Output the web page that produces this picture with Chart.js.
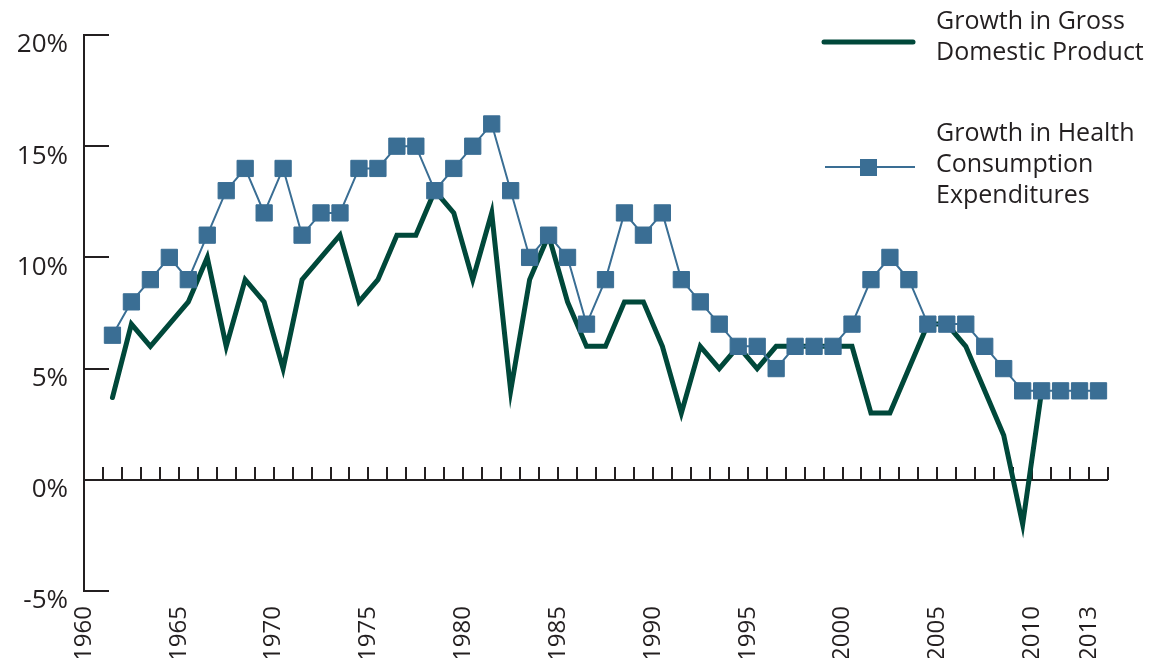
<!DOCTYPE html>
<html>
<head>
<meta charset="utf-8">
<script src="https://cdn.jsdelivr.net/npm/chart.js@4.4.1/dist/chart.umd.min.js"></script>
<style>
  html, body { margin: 0; padding: 0; background: #fff; }
  canvas { display: block; }
</style>
</head>
<body>
<canvas id="growthChart" width="1151" height="658"></canvas>
<script>
// years on the axis (1960 is an empty slot, data start in 1961)
const years = [
  1960, 1961, 1962, 1963, 1964, 1965, 1966, 1967, 1968, 1969,
  1970, 1971, 1972, 1973, 1974, 1975, 1976, 1977, 1978, 1979,
  1980, 1981, 1982, 1983, 1984, 1985, 1986, 1987, 1988, 1989,
  1990, 1991, 1992, 1993, 1994, 1995, 1996, 1997, 1998, 1999,
  2000, 2001, 2002, 2003, 2004, 2005, 2006, 2007, 2008, 2009,
  2010, 2011, 2012, 2013
];
const tickYears = [1960, 1965, 1970, 1975, 1980, 1985, 1990, 1995, 2000, 2005, 2010, 2013];
const yTicks = [-5, 0, 5, 10, 15, 20];

// annual growth, percent
const gdpGrowth = [
  null,
  3.7, 7, 6, 7, 8, 10, 6, 9, 8, 5,
  9, 10, 11, 8, 9, 11, 11, 13, 12, 9,
  12, 4, 9, 11, 8, 6, 6, 8, 8, 6,
  3, 6, 5, 6, 5, 6, 6, 6, 6, 6,
  3, 3, 5, 7, 7, 6, 4, 2, -2, 4,
  null, null, null
];
const healthGrowth = [
  null,
  6.5, 8, 9, 10, 9, 11, 13, 14, 12, 14,
  11, 12, 12, 14, 14, 15, 15, 13, 14, 15,
  16, 13, 10, 11, 10, 7, 9, 12, 11, 12,
  9, 8, 7, 6, 6, 5, 6, 6, 6, 7,
  9, 10, 9, 7, 7, 7, 6, 5, 4, 4,
  4, 4, 4
];

const gdpLabel = ["Growth in Gross", "Domestic Product"];
const healthLabel = ["Growth in Health", "Consumption", "Expenditures"];

const gdpColor = "#00483a";
const healthColor = "#3a6e94";
const axisColor = "#231f20";
const fontFamily = "'Open Sans', 'DejaVu Sans', sans-serif";

// inward y ticks plus the zero line with a small tick at every year
const axisMarks = {
  id: "axisMarks",
  beforeDatasetsDraw(chart) {
    const { ctx, chartArea, scales } = chart;
    const x = scales.x;
    const y = scales.y;
    ctx.save();
    ctx.strokeStyle = axisColor;
    ctx.lineWidth = 2;
    ctx.beginPath();
    yTicks.forEach((v) => {
      const py = Math.round(y.getPixelForValue(v));
      ctx.moveTo(chartArea.left, py);
      ctx.lineTo(chartArea.left + 25, py);
    });
    const zero = Math.round(y.getPixelForValue(0));
    ctx.moveTo(chartArea.left, zero);
    ctx.lineTo(chartArea.right, zero);
    const step = x.getPixelForValue(1) - x.getPixelForValue(0);
    for (let i = 0; i <= years.length; i++) {
      const px = Math.round(x.getPixelForValue(i) - step / 2);
      ctx.moveTo(px, zero);
      ctx.lineTo(px, zero - 13);
    }
    ctx.stroke();
    ctx.restore();
  },
};

const sideLegend = {
  id: "sideLegend",
  afterDraw(chart) {
    const ctx = chart.ctx;
    ctx.save();
    ctx.font = "25px " + fontFamily;
    ctx.fillStyle = axisColor;
    ctx.textBaseline = "middle";
    ctx.textAlign = "left";

    // GDP entry
    ctx.strokeStyle = gdpColor;
    ctx.lineWidth = 5;
    ctx.lineCap = "round";
    ctx.beginPath();
    ctx.moveTo(824, 42);
    ctx.lineTo(913, 42);
    ctx.stroke();
    gdpLabel.forEach((t, i) => ctx.fillText(t, 936, 22 + i * 31));

    // health entry
    ctx.strokeStyle = healthColor;
    ctx.lineWidth = 2;
    ctx.lineCap = "butt";
    ctx.beginPath();
    ctx.moveTo(825, 167);
    ctx.lineTo(915, 167);
    ctx.stroke();
    ctx.fillStyle = healthColor;
    ctx.fillRect(860, 159, 17, 17);
    ctx.fillStyle = axisColor;
    healthLabel.forEach((t, i) => ctx.fillText(t, 936, 134 + i * 31));
    ctx.restore();
  },
};

const ctx = document.getElementById("growthChart").getContext("2d");

const chart = new Chart(ctx, {
  type: "line",
  data: {
    labels: years,
    datasets: [
      {
        label: healthLabel.join(" "),
        data: healthGrowth,
        order: 0,
        borderColor: healthColor,
        borderWidth: 2,
        pointStyle: "rect",
        pointRadius: 11.5,
        pointBackgroundColor: healthColor,
        pointBorderColor: healthColor,
        pointBorderWidth: 1,
        tension: 0,
        spanGaps: false,
      },
      {
        label: gdpLabel.join(" "),
        data: gdpGrowth,
        order: 1,
        borderColor: gdpColor,
        borderWidth: 5,
        borderCapStyle: "round",
        borderJoinStyle: "miter",
        pointRadius: 0,
        tension: 0,
      },
    ],
  },
  options: {
    responsive: false,
    animation: false,
    layout: { padding: { top: 35, right: 43, left: 0, bottom: 0 } },
    plugins: {
      legend: { display: false },
      tooltip: { enabled: false },
    },
    scales: {
      x: {
        type: "category",
        offset: true,
        grid: { display: false, drawTicks: false },
        border: { display: false },
        ticks: {
          autoSkip: false,
          minRotation: 90,
          maxRotation: 90,
          padding: 15,
          labelOffset: -9.5,
          color: axisColor,
          font: { family: fontFamily, size: 24 },
          callback: (value, i) => (tickYears.includes(years[i]) ? String(years[i]) : ""),
        },
        afterFit: (scale) => {
          scale.height = 67;
        },
      },
      y: {
        min: -5,
        max: 20,
        grid: { display: false, drawTicks: false },
        border: { display: true, color: axisColor, width: 2 },
        ticks: {
          stepSize: 5,
          padding: 16,
          labelOffset: 10,
          color: axisColor,
          font: { family: fontFamily, size: 26 },
          callback: (v) => v + "%",
        },
        afterFit: (scale) => {
          scale.width = 84;
        },
      },
    },
  },
  plugins: [axisMarks, sideLegend],
});
</script>
</body>
</html>
